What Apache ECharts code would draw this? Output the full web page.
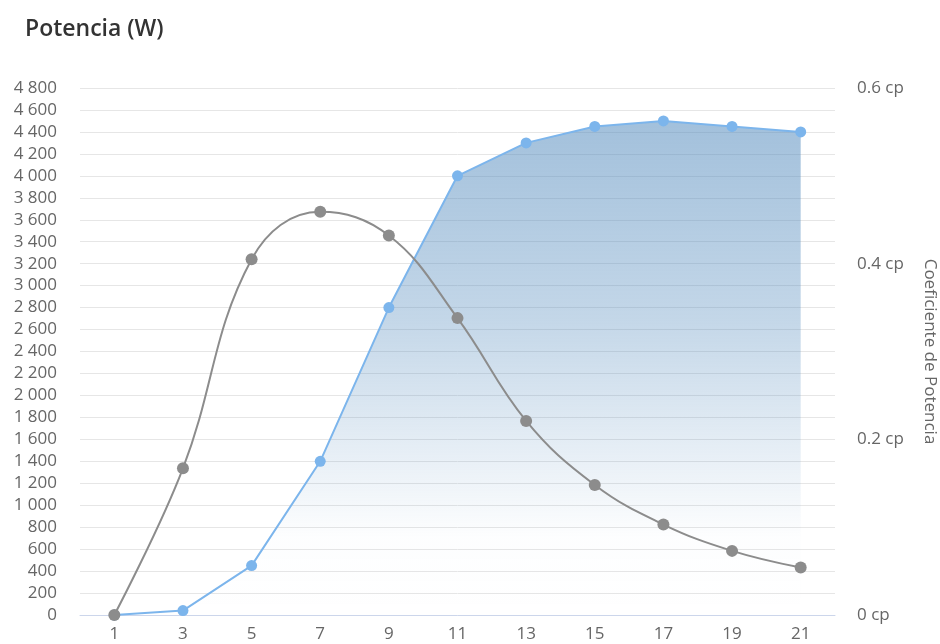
<!DOCTYPE html>
<html>
<head>
<meta charset="utf-8">
<script src="https://cdn.jsdelivr.net/npm/echarts@6/dist/echarts.min.js"></script>
<style>
  html, body { margin: 0; padding: 0; background: #fff; }
  #chart { width: 940px; height: 644px; }
</style>
</head>
<body>
<div id="chart"></div>
<script>
// Wind speed categories (m/s)
const windSpeeds = ['1', '3', '5', '7', '9', '11', '13', '15', '17', '19', '21'];
// Output power in watts
const powerW = [0, 40, 450, 1400, 2800, 4000, 4300, 4450, 4500, 4450, 4400];
// Power coefficient (cp)
const powerCoef = [0, 0.167, 0.405, 0.459, 0.432, 0.338, 0.221, 0.148, 0.103, 0.073, 0.054];

const FONT = '"Open Sans", "Noto Sans", sans-serif';

function thousands(v) {
  return String(v).replace(/\B(?=(\d{3})+(?!\d))/g, ' ');
}

const chart = echarts.init(document.getElementById('chart'), null, { renderer: 'canvas' });

chart.setOption({
  animation: false,
  title: {
    text: 'Potencia (W)',
    left: 25,
    top: 18,
    padding: 0,
    textStyle: { fontFamily: FONT, fontSize: 23, fontWeight: 600, color: '#333333' }
  },
  grid: {
    left: 80, right: 105, top: 88, bottom: 29,
    containLabel: false,
    outerBoundsMode: 'none'
  },
  xAxis: {
    type: 'category',
    data: windSpeeds,
    boundaryGap: true,
    axisLine: { lineStyle: { color: '#ccd6eb', width: 1 } },
    axisTick: { show: false },
    axisLabel: { color: '#666666', fontFamily: FONT, fontSize: 17, margin: 11 }
  },
  yAxis: [
    {
      type: 'value',
      min: 0,
      max: 4800,
      interval: 200,
      axisLine: { show: false },
      axisTick: { show: false },
      splitLine: { lineStyle: { color: '#e6e6e6', width: 1 } },
      axisLabel: {
        color: '#666666', fontFamily: FONT, fontSize: 17, margin: 23,
        formatter: thousands
      }
    },
    {
      type: 'value',
      min: 0,
      max: 0.6,
      interval: 0.2,
      position: 'right',
      name: 'Coeficiente de Potencia',
      nameLocation: 'middle',
      nameRotate: -90,
      nameGap: 86,
      nameTextStyle: { color: '#666666', fontFamily: FONT, fontSize: 17 },
      axisLine: { show: false },
      axisTick: { show: false },
      splitLine: { show: false },
      axisLabel: {
        color: '#666666', fontFamily: FONT, fontSize: 17, margin: 22,
        formatter: function (v) { return (Math.round(v * 10) / 10) + ' cp'; }
      }
    }
  ],
  series: [
    {
      name: 'Potencia',
      type: 'line',
      yAxisIndex: 0,
      data: powerW,
      smooth: false,
      symbol: 'circle',
      symbolSize: 11,
      lineStyle: { color: '#7cb5ec', width: 2 },
      itemStyle: { color: '#7cb5ec' },
      areaStyle: {
        color: new echarts.graphic.LinearGradient(0, 0, 0, 1, [
          { offset: 0, color: 'rgba(85,140,190,0.78)' },
          { offset: 0.4, color: 'rgba(85,140,190,0.5)' },
          { offset: 0.84, color: 'rgba(85,140,190,0.02)' },
          { offset: 1, color: 'rgba(85,140,190,0)' }
        ])
      },
      z: 2
    },
    {
      name: 'Coeficiente de Potencia',
      type: 'line',
      yAxisIndex: 1,
      data: powerCoef,
      smooth: 0.4,
      symbol: 'circle',
      symbolSize: 12,
      lineStyle: { color: '#8c8c8c', width: 2 },
      itemStyle: { color: '#8c8c8c' },
      z: 3
    }
  ]
});
</script>
</body>
</html>
